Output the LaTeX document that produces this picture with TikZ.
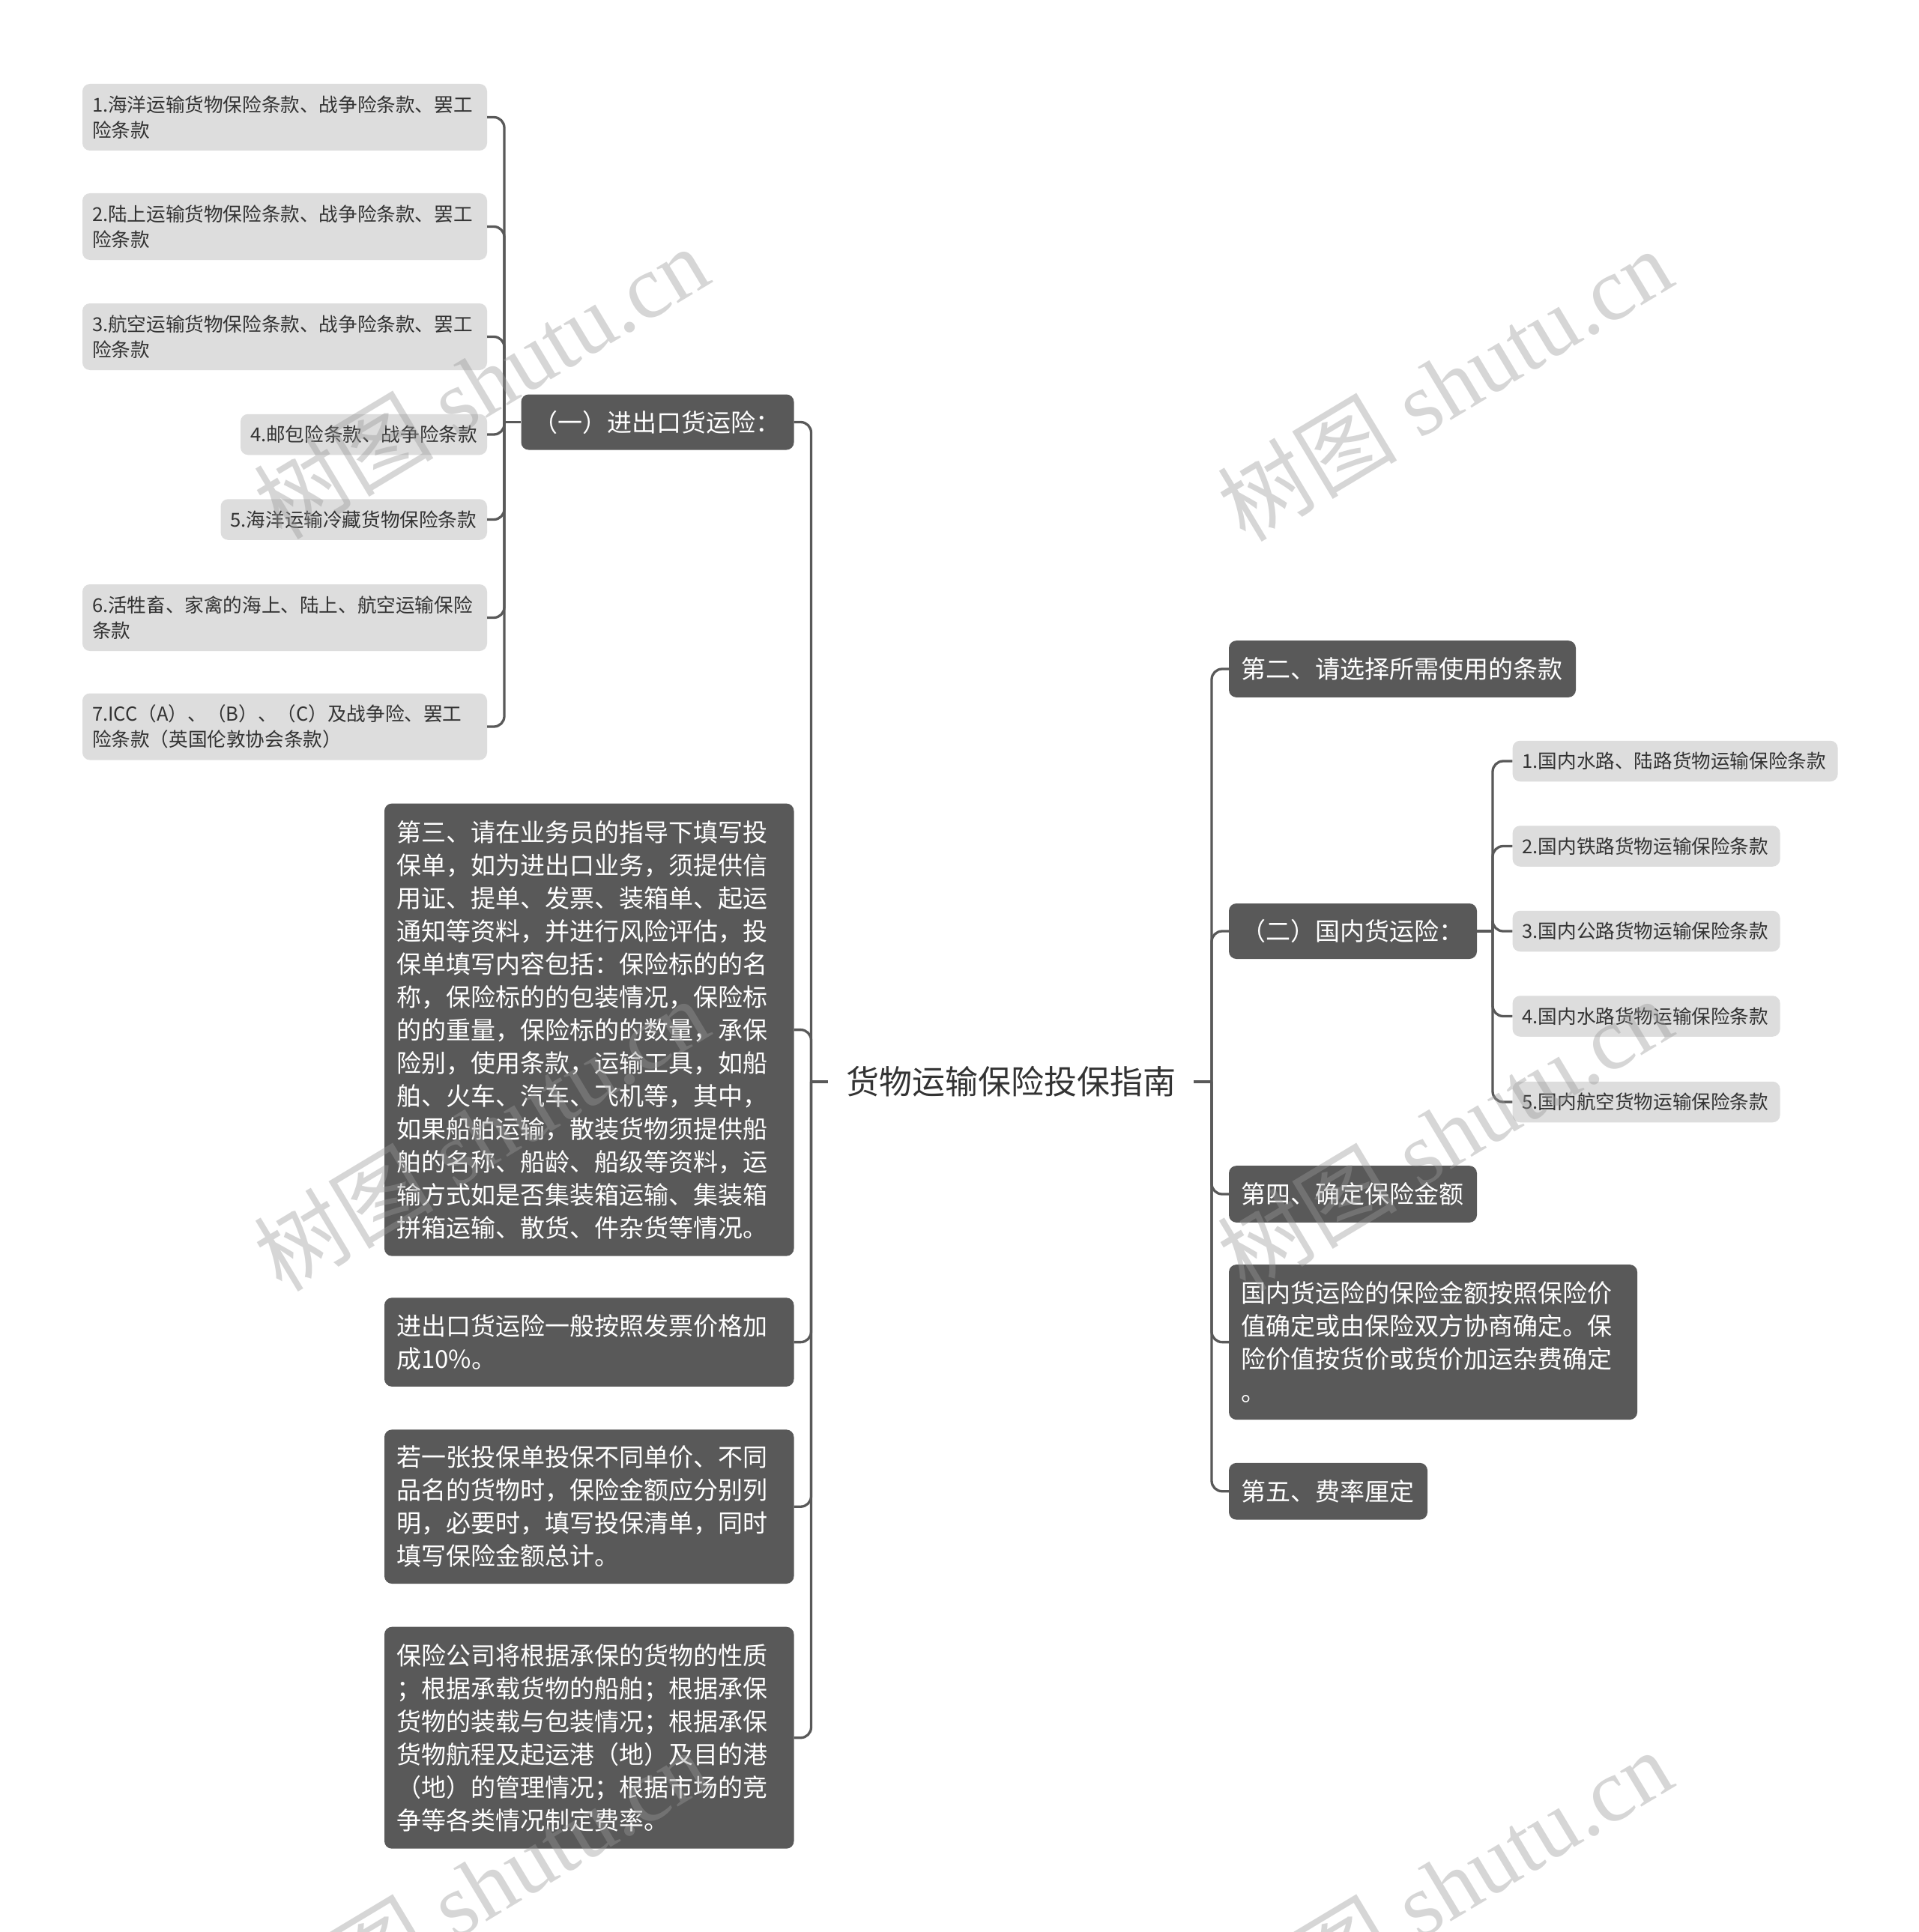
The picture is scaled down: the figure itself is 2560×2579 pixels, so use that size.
\documentclass[tikz,border=0pt]{standalone}
\usepackage{fontspec}
\setmainfont{Noto Sans CJK SC}
\newfontfamily\wmlat{Liberation Serif}
\newfontfamily\wmcjk{Noto Sans CJK SC}
\definecolor{darkbox}{HTML}{595959}
\definecolor{lightbox}{HTML}{DDDDDD}
\definecolor{txt}{HTML}{333333}
\definecolor{wm}{gray}{0.6}
\setlength{\parindent}{0pt}
\tikzset{
  darkn/.style={fill=darkbox, rounded corners=10pt, text=white,
    font=\fontsize{33}{44}\selectfont, align=left, inner xsep=16pt, inner ysep=0pt},
  lightn/.style={fill=lightbox, rounded corners=10pt, text=txt,
    font=\fontsize{25.6}{34}\selectfont, align=left, inner xsep=13pt, inner ysep=0pt},
  rootn/.style={text=txt, font=\fontsize{44}{52}\selectfont, inner xsep=24pt, inner ysep=8pt},
  conn/.style={draw=darkbox, line width=3.3pt, rounded corners=14pt},
  wmark/.style={rotate=31, text=wm, opacity=0.4, font=\fontsize{120}{130}\selectfont},
}
\begin{document}
\begin{tikzpicture}[x=1pt,y=-1pt]
\fill[white] (0,0) rectangle (2560,2579);
\path[use as bounding box] (0,0) rectangle (2560,2579);

% root
\node[rootn] (root) at (1349,1444) {货物运输保险投保指南};

% left leaves
\node[lightn, text width=514pt, minimum height=89pt] (b1) at (380,156.5) {1.海洋运输货物保险条款、战争险条款、罢工\\险条款};
\node[lightn, text width=514pt, minimum height=89pt] (b2) at (380,302.5) {2.陆上运输货物保险条款、战争险条款、罢工\\险条款};
\node[lightn, text width=514pt, minimum height=89pt] (b3) at (380,449.5) {3.航空运输货物保险条款、战争险条款、罢工\\险条款};
\node[lightn, text width=303pt, minimum height=54.5pt] (b4) at (485.5,580) {4.邮包险条款、战争险条款};
\node[lightn, text width=329.5pt, minimum height=54.5pt] (b5) at (472.25,693.5) {5.海洋运输冷藏货物保险条款};
\node[lightn, text width=514pt, minimum height=89pt] (b6) at (380,824.5) {6.活牲畜、家禽的海上、陆上、航空运输保险\\条款};
\node[lightn, text width=514pt, minimum height=89pt] (b7) at (380,970) {7.ICC（A）、（B）、（C）及战争险、罢工\\险条款（英国伦敦协会条款）};

% left dark nodes
\node[darkn, text width=332pt, minimum height=74pt] (p1) at (877.5,563.5) {（一）进出口货运险：};
\node[darkn, text width=514.5pt, minimum height=604pt] (n3) at (786.25,1374.6) {第三、请在业务员的指导下填写投\\保单，如为进出口业务，须提供信\\用证、提单、发票、装箱单、起运\\通知等资料，并进行风险评估，投\\保单填写内容包括：保险标的的名\\称，保险标的的包装情况，保险标\\的的重量，保险标的的数量，承保\\险别，使用条款，运输工具，如船\\舶、火车、汽车、飞机等，其中，\\如果船舶运输，散装货物须提供船\\舶的名称、船龄、船级等资料，运\\输方式如是否集装箱运输、集装箱\\拼箱运输、散货、件杂货等情况。};
\node[darkn, text width=514.5pt, minimum height=118.5pt] (n4) at (786.25,1791.6) {进出口货运险一般按照发票价格加\\成10\%。};
\node[darkn, text width=514.5pt, minimum height=205.6pt] (n5) at (786.25,2011.2) {若一张投保单投保不同单价、不同\\品名的货物时，保险金额应分别列\\明，必要时，填写投保清单，同时\\填写保险金额总计。};
\node[darkn, text width=514.5pt, minimum height=296pt] (n6) at (786.25,2319.7) {保险公司将根据承保的货物的性质\\；根据承载货物的船舶；根据承保\\货物的装载与包装情况；根据承保\\货物航程及起运港（地）及目的港\\（地）的管理情况；根据市场的竞\\争等各类情况制定费率。};

% right dark nodes
\node[darkn, text width=431pt, minimum height=75.7pt] (r2) at (1871.5,893) {第二、请选择所需使用的条款};
\node[darkn, text width=299pt, minimum height=74pt] (q2) at (1805.5,1243) {（二）国内货运险：};
\node[darkn, text width=299pt, minimum height=75.7pt] (r4) at (1805.5,1594) {第四、确定保险金额};
\node[darkn, text width=513pt, minimum height=207pt] (r5) at (1912.5,1791.6) {国内货运险的保险金额按照保险价\\值确定或由保险双方协商确定。保\\险价值按货价或货价加运杂费确定\\。};
\node[darkn, text width=233pt, minimum height=75.7pt] (r6) at (1772.5,1990.7) {第五、费率厘定};

% right leaves
\node[lightn, text width=408pt, minimum height=54.5pt] (l1) at (2235.6,1016) {1.国内水路、陆路货物运输保险条款};
\node[lightn, text width=331pt, minimum height=54.5pt] (l2) at (2197.1,1129.5) {2.国内铁路货物运输保险条款};
\node[lightn, text width=331pt, minimum height=54.5pt] (l3) at (2197.1,1243) {3.国内公路货物运输保险条款};
\node[lightn, text width=331pt, minimum height=54.5pt] (l4) at (2197.1,1356.5) {4.国内水路货物运输保险条款};
\node[lightn, text width=331pt, minimum height=54.5pt] (l5) at (2197.1,1471) {5.国内航空货物运输保险条款};

% junctions
\coordinate (tl) at (673,563.5);
\coordinate (tm) at (1082.5,1444);
\coordinate (tr) at (1617,1444);
\coordinate (ts) at (1992,1243);

% connectors
\foreach \n in {b1,b2,b3,b4,b5,b6,b7} \draw[conn] (\n.east) -| (tl);
\draw[conn] (tl) -- (p1.west);
\foreach \n in {p1,n3,n4,n5,n6} \draw[conn] (\n.east) -| (tm);
\draw[conn] (tm) -- (root.west);
\draw[conn] (root.east) -- (tr);
\foreach \n in {r2,q2,r4,r5,r6} \draw[conn] (\n.west) -| (tr);
\draw[conn] (q2.east) -- (ts);
\foreach \n in {l1,l2,l3,l4,l5} \draw[conn] (\n.west) -| (ts);

% watermarks
\foreach \wx/\wy [count=\i] in {641.6/510, 1928/513, 641.6/1513.6, 1928/1513.6, 641.6/2517, 1928/2517}
  \node[wmark] (wm\i) at (\wx,\wy) {\wmcjk 树图\wmlat{} shutu.cn};
\end{tikzpicture}
\end{document}
